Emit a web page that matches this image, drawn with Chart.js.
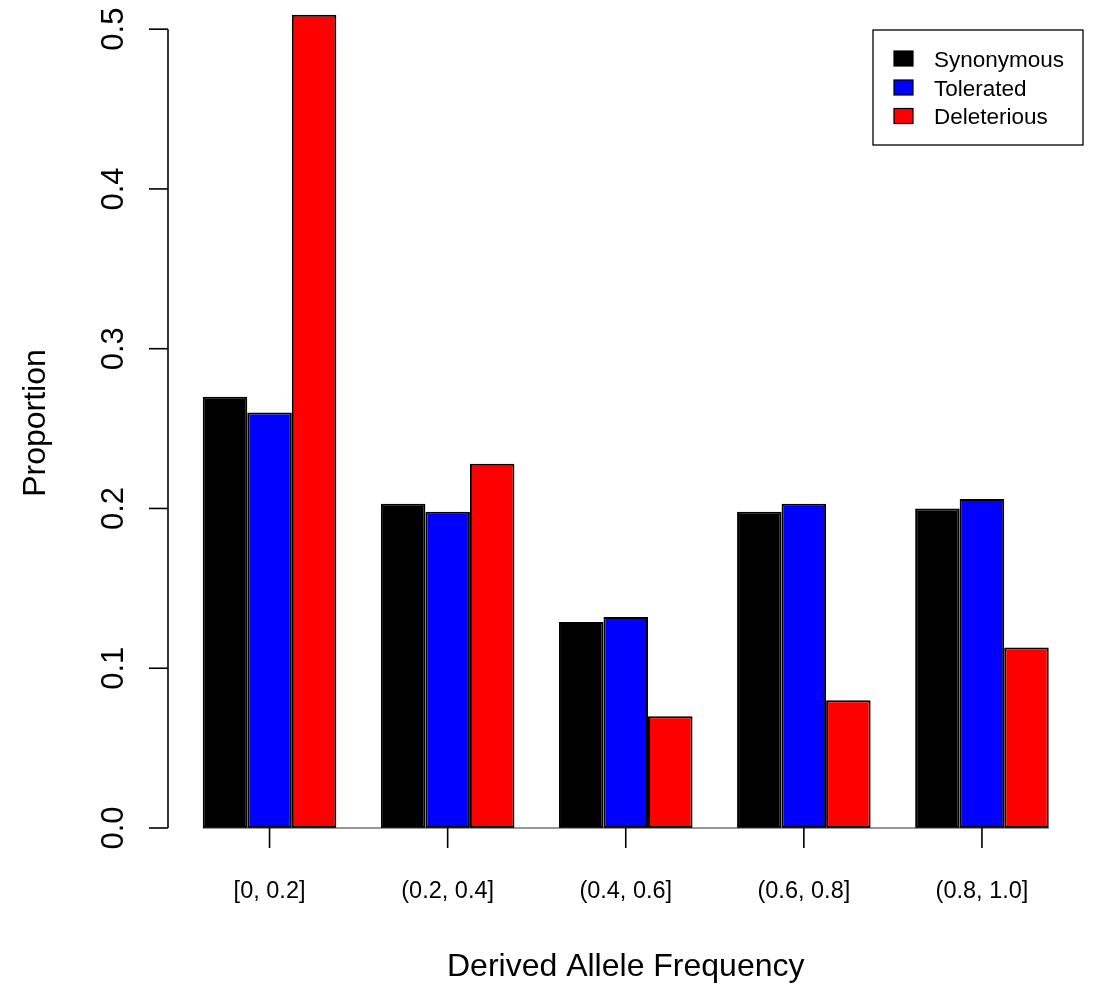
<!DOCTYPE html>
<html>
<head>
<meta charset="utf-8">
<title>Derived Allele Frequency</title>
<script src="https://cdn.jsdelivr.net/npm/chart.js@4/dist/chart.umd.min.js"></script>
<style>
  html, body { margin: 0; padding: 0; background: #ffffff; }
  #wrap { width: 1102px; height: 985px; position: relative; }
</style>
</head>
<body>
<div id="wrap"><canvas id="c" width="1102" height="985"></canvas></div>
<script>
// Frequency bins and proportion of each variant class per bin
const categories = ['[0, 0.2]', '(0.2, 0.4]', '(0.4, 0.6]', '(0.6, 0.8]', '(0.8, 1.0]'];
const seriesNames = ['Synonymous', 'Tolerated', 'Deleterious'];
const synonymous = [0.270, 0.203, 0.129, 0.198, 0.200];
const tolerated = [0.260, 0.198, 0.132, 0.203, 0.206];
const deleterious = [0.509, 0.228, 0.070, 0.080, 0.113];
const yTicks = [0, 0.1, 0.2, 0.3, 0.4, 0.5];
const yTickLabels = ['0.0', '0.1', '0.2', '0.3', '0.4', '0.5'];
const xTitle = 'Derived Allele Frequency';
const yTitle = 'Proportion';

const seriesColors = ['#000000', '#0000ff', '#ff0000'];
const FONT = '"Liberation Sans", Arial, Helvetica, sans-serif';

// R-style axes, labels and legend drawn from the chart's own scales
const baseAxes = {
  id: 'baseAxes',
  afterDraw(chart) {
    const ctx = chart.ctx;
    const xs = chart.scales.x, ys = chart.scales.y;
    const area = chart.chartArea;
    const y0 = ys.getPixelForValue(0);
    ctx.save();
    ctx.strokeStyle = '#000';
    ctx.fillStyle = '#000';

    // y axis
    const axX = 168;
    ctx.lineWidth = 1.6;
    ctx.beginPath();
    ctx.moveTo(axX, ys.getPixelForValue(yTicks[0]));
    ctx.lineTo(axX, ys.getPixelForValue(yTicks[yTicks.length - 1]));
    ctx.stroke();
    ctx.font = '31px ' + FONT;
    ctx.textAlign = 'center';
    ctx.textBaseline = 'alphabetic';
    yTicks.forEach((v, i) => {
      const py = ys.getPixelForValue(v);
      ctx.beginPath();
      ctx.moveTo(axX - 19, py);
      ctx.lineTo(axX, py);
      ctx.stroke();
      ctx.save();
      ctx.translate(123, py);
      ctx.rotate(-Math.PI / 2);
      ctx.fillText(yTickLabels[i], 0, 0);
      ctx.restore();
    });

    // baseline under the bars
    const first = chart.getDatasetMeta(0).data[0];
    const lastMeta = chart.getDatasetMeta(chart.data.datasets.length - 1);
    const last = lastMeta.data[lastMeta.data.length - 1];
    ctx.lineWidth = 1.2;
    ctx.strokeStyle = '#333';
    ctx.beginPath();
    ctx.moveTo(first.x - first.width / 2, y0);
    ctx.lineTo(last.x + last.width / 2, y0);
    ctx.stroke();

    // category ticks and labels
    ctx.strokeStyle = '#000';
    ctx.lineWidth = 1.6;
    ctx.font = '23.5px ' + FONT;
    categories.forEach((c, i) => {
      const px = xs.getPixelForValue(i);
      ctx.beginPath();
      ctx.moveTo(px, y0);
      ctx.lineTo(px, y0 + 20);
      ctx.stroke();
      ctx.fillText(c, px, 898);
    });

    // axis titles
    ctx.font = '32px ' + FONT;
    ctx.fillText(xTitle, (area.left + area.right) / 2, 976);
    ctx.save();
    ctx.translate(45, 423);
    ctx.rotate(-Math.PI / 2);
    ctx.fillText(yTitle, 0, 0);
    ctx.restore();

    // legend
    const lx = 873, ly = 30, lw = 210, lh = 115;
    ctx.fillStyle = '#fff';
    ctx.fillRect(lx, ly, lw, lh);
    ctx.lineWidth = 1.3;
    ctx.strokeRect(lx, ly, lw, lh);
    const rows = [58.5, 87.5, 116];
    ctx.font = '22.5px ' + FONT;
    ctx.textAlign = 'left';
    chart.data.datasets.forEach((ds, i) => {
      const cy = rows[i];
      ctx.fillStyle = ds.backgroundColor;
      ctx.fillRect(894, cy - 7.5, 19, 15);
      ctx.lineWidth = 1.2;
      ctx.strokeStyle = '#000';
      ctx.strokeRect(894, cy - 7.5, 19, 15);
      ctx.fillStyle = '#000';
      ctx.fillText(ds.label, 934, cy + 8);
    });
    ctx.restore();
  }
};

new Chart(document.getElementById('c'), {
  type: 'bar',
  data: {
    labels: categories,
    datasets: [synonymous, tolerated, deleterious].map((vals, i) => ({
      label: seriesNames[i],
      data: vals,
      backgroundColor: seriesColors[i],
      borderColor: '#000',
      borderWidth: 2,
      borderSkipped: false,
      barPercentage: 1.0,
      categoryPercentage: 0.75
    }))
  },
  options: {
    responsive: false,
    devicePixelRatio: 1,
    animation: false,
    layout: { padding: { left: 180.5, right: 31, top: 5.2, bottom: 157 } },
    scales: {
      x: { display: false, offset: true },
      y: { display: false, min: 0, max: 0.515 }
    },
    plugins: { legend: { display: false }, tooltip: { enabled: false } }
  },
  plugins: [baseAxes]
});
</script>
</body>
</html>
